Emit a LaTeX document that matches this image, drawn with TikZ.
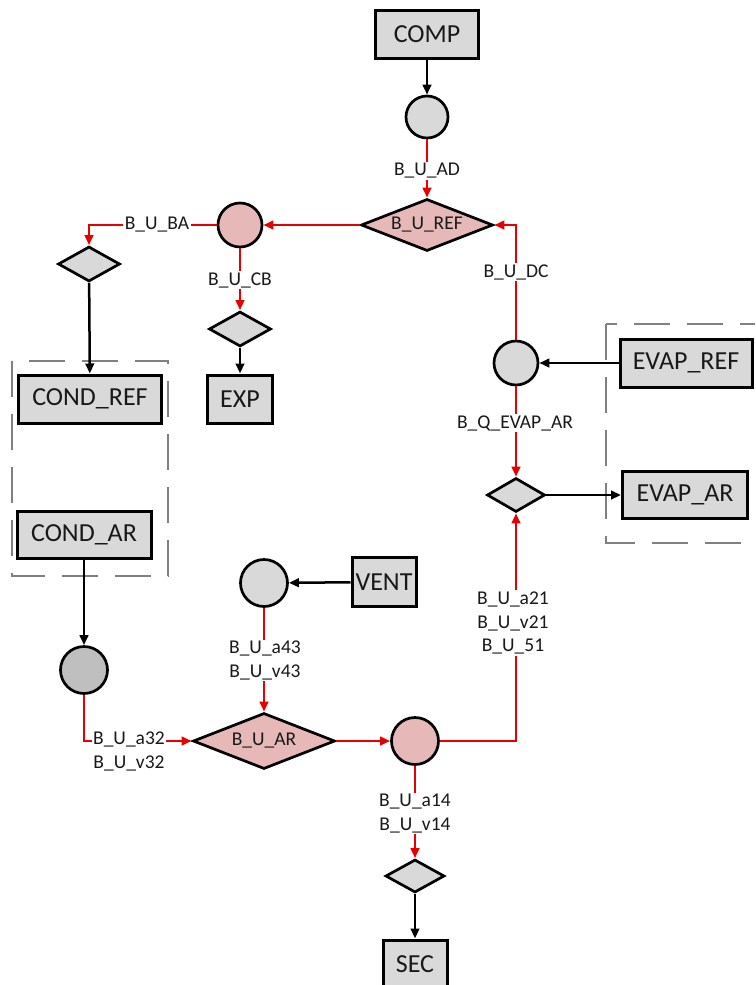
\documentclass[tikz,border=0pt]{standalone}
\usepackage{fontspec}
\setmainfont{Carlito}
\usetikzlibrary{shapes.geometric,arrows.meta}
\definecolor{lred}{RGB}{230,0,0}
\definecolor{boxgray}{RGB}{217,217,217}
\definecolor{darkcirc}{RGB}{191,191,191}
\definecolor{pinkfill}{RGB}{230,185,184}
\definecolor{dashgray}{RGB}{128,128,128}
\definecolor{txt}{RGB}{25,25,25}
\begin{document}
\begin{tikzpicture}[x=1pt,y=-1pt,
 boxnode/.style={draw=black,line width=3pt,fill=boxgray,rectangle,inner sep=0pt,font=\fontsize{26}{30}\selectfont,text=txt},
 circnode/.style={draw=black,line width=2.7pt,circle,inner sep=0pt,fill=boxgray},
 dianode/.style={draw=black,line width=2.7pt,diamond,inner sep=0pt,fill=boxgray,font=\fontsize{19.5}{23.5}\selectfont,text=txt},
 lbl/.style={fill=white,inner sep=1.5pt,align=center,font=\fontsize{19.5}{23.5}\selectfont,text=txt},
 redarrow/.style={draw=lred,line width=2.5pt,-{Triangle[length=10pt,width=8.5pt]}},
 blkarrow/.style={draw=black,line width=2.5pt,-{Triangle[length=10pt,width=8.5pt]}},
 dashbox/.style={draw=dashgray,line width=2.6pt,dash pattern=on 36pt off 17pt}]
\useasboundingbox (0,0) rectangle (755,985);
\clip (0,0) rectangle (755,985);

% dashed group boxes
\draw[dashbox] (12,361) rectangle (168,576);
\draw[dashbox] (606,324) rectangle (790,543);

% nodes
\node[boxnode,minimum width=103pt,minimum height=48pt] (comp) at (427,34) {COMP};
\node[circnode,minimum size=42pt] (c1) at (427,117) {};
\node[dianode,fill=pinkfill,minimum width=132pt,minimum height=52pt,aspect=2.54] (ref) at (427,225) {B\_U\_REF};
\node[circnode,fill=pinkfill,minimum size=44pt] (pc1) at (240,225) {};
\node[dianode,minimum width=62pt,minimum height=35pt,aspect=1.77] (d1) at (89,264) {};
\node[boxnode,minimum width=143pt,minimum height=48pt] (condref) at (90,399) {COND\_REF};
\node[dianode,minimum width=62pt,minimum height=35pt,aspect=1.77] (d2) at (240,329) {};
\node[boxnode,minimum width=65pt,minimum height=48pt] (exp) at (240,399) {EXP};
\node[circnode,minimum size=44pt] (c2) at (516,363) {};
\node[boxnode,minimum width=132pt,minimum height=48pt] (evapref) at (686,363) {EVAP\_REF};
\node[dianode,minimum width=58pt,minimum height=34pt,aspect=1.7] (d3) at (516,495) {};
\node[boxnode,minimum width=125pt,minimum height=47pt] (evapar) at (685,495) {EVAP\_AR};
\node[boxnode,minimum width=134pt,minimum height=47pt] (condar) at (84,535) {COND\_AR};
\node[circnode,fill=darkcirc,minimum size=47pt] (c3) at (84,670) {};
\node[circnode,minimum size=47pt] (c4) at (264,583) {};
\node[boxnode,minimum width=64pt,minimum height=49pt] (vent) at (384,582) {VENT};
\node[dianode,fill=pinkfill,minimum width=142pt,minimum height=56pt,aspect=2.54] (ar) at (264,741) {B\_U\_AR};
\node[circnode,fill=pinkfill,minimum size=47pt] (pc2) at (415,741) {};
\node[dianode,minimum width=59pt,minimum height=33pt,aspect=1.79] (d4) at (415,876) {};
\node[boxnode,minimum width=64pt,minimum height=48pt] (sec) at (415,964) {SEC};

% connectors
\draw[blkarrow] (comp) -- (c1);
\draw[redarrow] (c1) -- (ref);
\draw[redarrow] (ref) -- (pc1);
\draw[redarrow] (pc1.west) -| (d1.north);
\draw[blkarrow] (d1) -- (condref);
\draw[redarrow] (pc1) -- (d2);
\draw[blkarrow] (d2) -- (exp);
\draw[redarrow] (c2.north) |- (ref.east);
\draw[blkarrow] (evapref) -- (c2);
\draw[redarrow] (c2) -- (d3);
\draw[blkarrow] (d3) -- (evapar);
\draw[redarrow] (pc2.east) -| (d3.south);
\draw[blkarrow] (condar) -- (c3);
\draw[redarrow] (c3.south) |- (ar.west);
\draw[blkarrow] (vent) -- (c4);
\draw[redarrow] (c4) -- (ar);
\draw[redarrow] (ar) -- (pc2);
\draw[redarrow] (pc2) -- (d4);
\draw[blkarrow] (d4) -- (sec);

% connector labels
\node[lbl] (lad) at (427,171) {B\_U\_AD};
\node[lbl] (lba) at (157,225) {B\_U\_BA};
\node[lbl] (lcb) at (240,280) {B\_U\_CB};
\node[lbl] (ldc) at (516,272) {B\_U\_DC};
\node[lbl] (lqe) at (515,423) {B\_Q\_EVAP\_AR};
\node[lbl] (l43) at (265,660.5) {B\_U\_a43\\B\_U\_v43};
\node[lbl] (l32) at (129,751.5) {B\_U\_a32\\B\_U\_v32};
\node[lbl] (l21) at (513,623) {B\_U\_a21\\B\_U\_v21\\B\_U\_51};
\node[lbl] (l14) at (415,813.5) {B\_U\_a14\\B\_U\_v14};
\end{tikzpicture}
\end{document}
